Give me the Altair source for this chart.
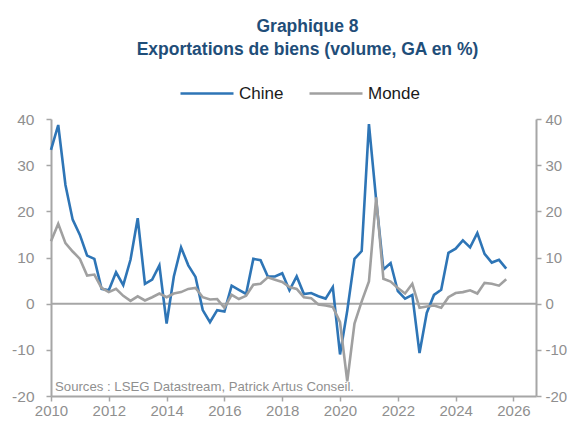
import altair as alt
import pandas as pd

# Quarterly observations, 2010Q1 .. 2025Q4
quarters = [2010 + i / 4 for i in range(64)]

china = [33.3, 38.7, 25.7, 18.2, 14.9, 10.4, 9.7, 3.2, 2.9, 6.8,
         4.0, 9.5, 18.5, 4.3, 5.2, 8.3, -4.3, 5.9, 12.2, 8.3,
         5.8, -1.4, -4.0, -1.4, -1.7, 3.9, 3.0, 2.1, 9.7, 9.4,
         5.9, 5.9, 6.6, 2.9, 5.9, 2.1, 2.3, 1.6, 1.1, 3.6,
         -11.0, -1.5, 9.7, 11.4, 38.9, 22.5, 7.4, 8.8, 2.7, 1.1,
         1.9, -10.7, -2.0, 1.9, 3.0, 11.0, 11.9, 13.7, 12.2, 15.3,
         10.8, 8.9, 9.5, 7.6]

monde = [13.5, 17.3, 13.1, 11.3, 9.7, 6.1, 6.3, 3.4, 2.5, 3.2,
         1.7, 0.6, 1.6, 0.7, 1.4, 2.2, 1.4, 2.2, 2.5, 3.2,
         3.4, 1.4, 0.9, 1.0, -0.9, 1.9, 1.0, 1.7, 4.1, 4.3,
         5.7, 5.2, 4.7, 3.6, 3.2, 1.4, 1.2, -0.2, -0.4, -0.7,
         -4.0, -16.8, -4.3, 0.5, 4.8, 23.0, 5.4, 4.8, 3.4, 2.2,
         4.3, -0.9, -0.6, -0.4, -0.9, 1.4, 2.3, 2.5, 2.9, 2.2,
         4.5, 4.3, 3.9, 5.3]

series = ["Chine", "Monde"]
colors = ["#2E75B6", "#A0A0A0"]
x_ticks = [2010, 2012, 2014, 2016, 2018, 2020, 2022, 2024, 2026]
y_ticks = [-20, -10, 0, 10, 20, 30, 40]
title_lines = ["Graphique 8", "Exportations de biens (volume, GA en %)"]
source_text = "Sources : LSEG Datastream, Patrick Artus Conseil."

df = pd.DataFrame({
    "t": quarters * 2,
    "v": china + monde,
    "s": ["Chine"] * len(china) + ["Monde"] * len(monde),
})

FONT = "Liberation Sans, Arial, sans-serif"
AX = "#A6A6A6"
LAB = "#8F8F8F"
HYPHEN_LABEL = "datum.value < 0 ? '-' + abs(datum.value) : '' + datum.value"

xscale = alt.Scale(domain=[2010, 2026.78], nice=False, zero=False)
yscale = alt.Scale(domain=[-20, 40], nice=False, zero=False)


def yaxis(orient, pad, size):
    return alt.Axis(orient=orient, values=y_ticks, title=None, grid=False,
                    domainColor=AX, domainWidth=2, tickColor=AX, tickWidth=1.5,
                    tickSize=5, labelColor=LAB, labelFont=FONT, labelFontSize=size,
                    labelPadding=pad, labelExpr=HYPHEN_LABEL)


xaxis = alt.Axis(values=x_ticks, format="d", title=None, grid=False,
                 domainColor=AX, domainWidth=2, tickColor=AX, tickWidth=1.5,
                 tickSize=5, labelColor=LAB, labelFont=FONT, labelFontSize=15,
                 labelPadding=2, labelFlush=False)

zero = alt.Chart(pd.DataFrame({"z": [0]})).mark_rule(color=AX, strokeWidth=2).encode(
    y=alt.Y("z:Q", scale=yscale, axis=yaxis("right", 4, 15))
)

lines = alt.Chart(df).mark_line(strokeWidth=2.6).encode(
    x=alt.X("t:Q", scale=xscale, axis=xaxis),
    y=alt.Y("v:Q", scale=yscale, axis=yaxis("left", 12, 15.5)),
    color=alt.Color("s:N", scale=alt.Scale(domain=series, range=colors),
                    legend=alt.Legend(orient="none", legendX=128, legendY=-53.5,
                                      direction="horizontal", title=None,
                                      symbolType="stroke", symbolSize=2809,
                                      symbolStrokeWidth=2.6, labelFont=FONT,
                                      labelFontSize=17, labelColor="#1A1A1A",
                                      labelOffset=4, columnPadding=20)),
)

src = alt.Chart(pd.DataFrame({"txt": [source_text]})).mark_text(
    align="left", baseline="middle", font=FONT, fontSize=13.2, color=LAB
).encode(x=alt.value(4), y=alt.value(268), text="txt:N")

chart = alt.layer(zero, lines, src).resolve_scale(y="independent").properties(
    width=485, height=277,
    autosize=alt.AutoSizeParams(type="none"),
    padding={"left": 43, "top": 111, "right": 31, "bottom": 23},
    title=alt.TitleParams(title_lines, font=FONT, fontSize=17.5, fontWeight="bold",
                          color="#1F4E79", anchor="middle", dx=14, offset=6.5,
                          lineHeight=23.3),
).configure_view(stroke=None)

chart.save("out.html", embed_options={"renderer": "svg", "actions": False})
